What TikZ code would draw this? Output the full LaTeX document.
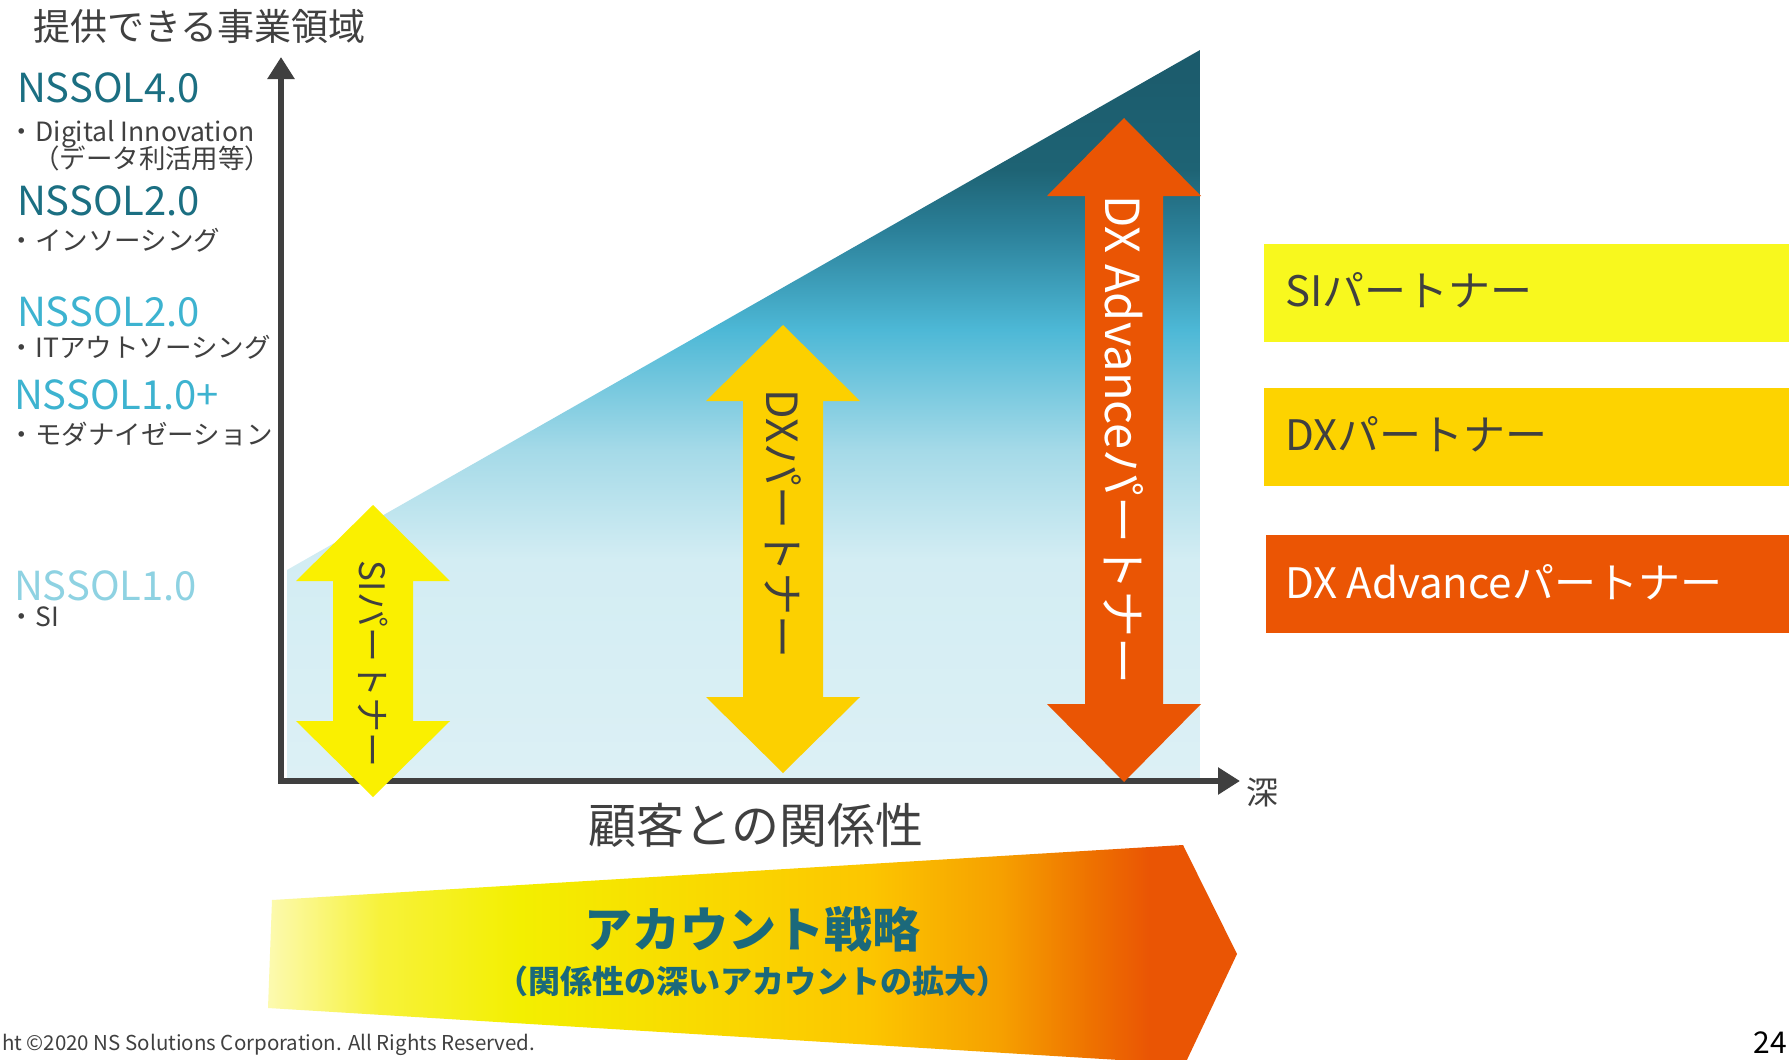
\documentclass[tikz,border=0pt]{standalone}
\usepackage{fontspec}
\setmainfont{Noto Sans CJK JP}
\usetikzlibrary{arrows.meta}
\definecolor{txt}{HTML}{404040}
\definecolor{axisc}{HTML}{3F3F3F}
\definecolor{tealD}{HTML}{1B6F82}
\definecolor{tealM}{HTML}{3DB3D0}
\definecolor{tealL}{HTML}{8ED2E2}
\definecolor{siY}{HTML}{FAF000}
\definecolor{dxY}{HTML}{FCD000}
\definecolor{dxO}{HTML}{EA5504}
\definecolor{legSI}{HTML}{F8F81E}
\definecolor{legDX}{HTML}{FDD300}
\definecolor{legAdv}{HTML}{EB5504}
\definecolor{acct}{HTML}{1B697B}
\definecolor{s1}{HTML}{DCF0F5}
\definecolor{s2}{HTML}{D3EDF3}
\definecolor{s3}{HTML}{A5DAE8}
\definecolor{s4}{HTML}{4DB8D6}
\definecolor{s5}{HTML}{2B8099}
\definecolor{s6}{HTML}{1E6374}
\definecolor{s7}{HTML}{1B5A6B}
\definecolor{a1}{HTML}{FCFAB0}
\definecolor{a2}{HTML}{F7F23A}
\definecolor{a3}{HTML}{F3EF00}
\definecolor{a4}{HTML}{F9DA00}
\definecolor{a5}{HTML}{FCC600}
\definecolor{a6}{HTML}{F6A000}
\definecolor{a7}{HTML}{EE7200}
\definecolor{a8}{HTML}{EA5504}
\pgfdeclareverticalshading{depthsh}{100bp}{color(0bp)=(s1); color(25bp)=(s1); color(40bp)=(s2); color(47.5bp)=(s3); color(55.8bp)=(s4); color(62.6bp)=(s5); color(66.8bp)=(s6); color(75bp)=(s7); color(100bp)=(s7)}
\pgfdeclarehorizontalshading{acctsh}{100bp}{color(0bp)=(a1); color(25bp)=(a1); color(30.8bp)=(a2); color(38bp)=(a3); color(47.3bp)=(a4); color(56bp)=(a5); color(62.8bp)=(a6); color(67.4bp)=(a7); color(70.5bp)=(a8); color(100bp)=(a8)}
% x, ytop, ybottom, headlen, halfhead, halfshaft, colour
\newcommand\DArrow[7]{\fill[#7] (#1,#2) -- ({#1+#5},{#2+#4}) -- ({#1+#6},{#2+#4}) -- ({#1+#6},{#3-#4}) -- ({#1+#5},{#3-#4}) -- (#1,#3) -- ({#1-#5},{#3-#4}) -- ({#1-#6},{#3-#4}) -- ({#1-#6},{#2+#4}) -- ({#1-#5},{#2+#4}) -- cycle;}
\newcommand\fs[1]{\fontsize{#1}{#1}\selectfont}
\tikzset{
  every node/.style={inner sep=0pt, outer sep=0pt},
  lab/.style={anchor=base west, font=\fs{40}},
  item/.style={anchor=base west, font=\fs{26.5}, text=txt},
  legtext/.style={anchor=base west, font=\fs{42}, text=txt},
  legbox/.style={anchor=north west, minimum width=525pt, minimum height=98pt},
  axisline/.style={draw=axisc, line width=6pt, line join=miter,
    {Triangle[length=22pt,width=26pt]}-{Triangle[length=22pt,width=26pt]}},
  arrtext/.style={rotate=-90, text=txt},
}
\begin{document}
\begin{tikzpicture}[x=1pt,y=-1pt]
\clip (0,0) rectangle (1789,1060);
\fill[white] (0,0) rectangle (1789,1060);
% depth area
\shade[shading=depthsh] (287,570) -- (1200,50) -- (1200,778) -- (287,778) -- cycle;
% axes
\coordinate (Ytop) at (281,57);
\coordinate (O) at (281,781);
\coordinate (Xend) at (1240,781);
\draw[axisline] (Ytop) -- (O) -- (Xend);
% partner arrows
\DArrow{373}{505}{797}{76}{77}{40}{siY}
\DArrow{783}{325}{773}{76}{77}{40}{dxY}
\DArrow{1124}{118}{782}{78}{77}{39}{dxO}
\node[arrtext, font=\fs{35}] (sit) at (373,664) {SIパートナー};
\node[arrtext, font=\fs{43}] (dxt) at (783,524) {DXパートナー};
\node[arrtext, font=\fs{47}, text=white] (advt) at (1124,440) {DX Advanceパートナー};
% axis labels
\node[anchor=base west, font=\fs{37}, text=txt] (title) at (33,40) {提供できる事業領域};
\node[font=\fs{48}, text=txt] (xlab) at (756,825) {顧客との関係性};
\node[font=\fs{32}, text=txt] (deep) at (1262,793) {深};
% left labels
\node[lab, text=tealD] (n40) at (17,102) {NSSOL4.0};
\node[item] (i40a) at (9,141) {・Digital Innovation};
\node[item] (i40b) at (33,168) {（データ利活用等）};
\node[lab, text=tealD] (n20a) at (17,215) {NSSOL2.0};
\node[item] (i20a) at (9,250) {・インソーシング};
\node[lab, text=tealM] (n20b) at (17,326) {NSSOL2.0};
\node[item] (i20b) at (9,357) {・ITアウトソーシング};
\node[lab, text=tealM] (n10p) at (14,409) {NSSOL1.0+};
\node[item] (i10p) at (9,444) {・モダナイゼーション};
\node[lab, text=tealL] (n10) at (14,600) {NSSOL1.0};
\node[item] (i10) at (9,626) {・SI};
% legend
\node[legbox, fill=legSI] (lsi) at (1264,244) {};
\node[legtext] (lsit) at (1285,306) {SIパートナー};
\node[legbox, fill=legDX] (ldx) at (1264,388) {};
\node[legtext] (ldxt) at (1285,450) {DXパートナー};
\node[legbox, fill=legAdv] (ladv) at (1266,535) {};
\node[legtext, text=white] (ladvt) at (1285,598) {DX Advanceパートナー};
% account strategy chevron
\shade[shading=acctsh] (272,900) -- (1183,845) -- (1237,954) -- (1185,1064) -- (268,1008) -- cycle;
\node[font=\bfseries\fs{48}, text=acct] (acc1) at (752,929) {アカウント戦略};
\node[font=\bfseries\fs{32}, text=acct] (acc2) at (752,981) {（関係性の深いアカウントの拡大）};
% footer
\node[anchor=base west, font=\fs{20.5}, text=txt] (copy) at (2,1050) {ht ©2020 NS Solutions Corporation. All Rights Reserved.};
\node[anchor=base east, font=\fs{30}, text=black] (page) at (1787,1053) {24};
\end{tikzpicture}
\end{document}
